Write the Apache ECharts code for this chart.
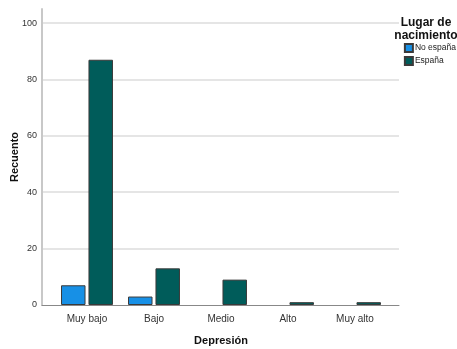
<!DOCTYPE html>
<html><head><meta charset="utf-8">
<script src="https://cdn.jsdelivr.net/npm/echarts@6/dist/echarts.min.js"></script>
<style>html,body{margin:0;padding:0;background:#fff}#c{width:457px;height:349px}</style>
</head><body><div id="c"></div>
<script>
const categories = ['Muy bajo', 'Bajo', 'Medio', 'Alto', 'Muy alto'];
const noEspana = [7, 3, 0, 0, 0];
const espana = [87, 13, 9, 1, 1];
const yTicks = [0, 20, 40, 60, 80, 100];
const seriesNames = ['No españa', 'España'];

const chart = echarts.init(document.getElementById('c'));
const FF = 'Arial, Liberation Sans, sans-serif';
const lab = {fontFamily: FF, fontSize: 9, color: '#333'};
const nz = arr => arr.map(v => v === 0 ? '-' : v);
chart.setOption({
  animation: false,
  title: {text: 'Lugar de\nnacimiento', left: 421, top: 11, textAlign: 'center',
    textStyle: {fontFamily: FF, fontSize: 12, fontWeight: 'bold', color: '#111', lineHeight: 13}},
  legend: {orient: 'vertical', right: 0, top: 38, align: 'left', padding: [5, 1, 5, 2], itemWidth: 8, itemHeight: 8, itemGap: 3,
    icon: 'rect', textStyle: {fontFamily: FF, fontSize: 8.5, color: '#222', padding: [0,0,0,-3]},
    data: seriesNames},
  grid: [
    {left: 42, right: 58, top: 9, bottom: 44, outerBoundsMode: 'none', containLabel: false},
    {left: 53.5, right: 68.5, top: 9, bottom: 44, outerBoundsMode: 'none', containLabel: false}
  ],
  xAxis: [
    {gridIndex: 0, type: 'value', min: 0, max: 1, axisLine: {show: true, onZero: false, lineStyle: {color: '#888', width: 1}},
     axisTick: {show: false}, axisLabel: {show: false}, splitLine: {show: false}},
    {gridIndex: 1, type: 'category', data: categories, axisLine: {show: false}, axisTick: {show: false},
     axisLabel: Object.assign({}, lab, {fontSize: 10, margin: 9}),
     name: 'Depresión', nameLocation: 'middle', nameGap: 30, nameMoveOverlap: false,
     nameTextStyle: {fontFamily: FF, fontSize: 11, fontWeight: 'bold', color: '#111'}}
  ],
  yAxis: [
    {gridIndex: 0, type: 'value', min: 0, max: 105, interval: 20,
     axisLine: {show: true, lineStyle: {color: '#c8c8c8', width: 2}}, axisTick: {show: false},
     axisLabel: Object.assign({}, lab, {showMaxLabel: false, margin: 5, formatter: v => yTicks.includes(v) ? String(v) : ''}),
     splitLine: {show: true, showMaxLine: false, showMinLine: false, lineStyle: {color: '#dcdcdc', width: 1.5}},
     name: 'Recuento', nameLocation: 'middle', nameGap: 22, nameMoveOverlap: false,
     nameTextStyle: {fontFamily: FF, fontSize: 11, fontWeight: 'bold', color: '#111'}},
    {gridIndex: 1, type: 'value', min: 0, max: 105, show: false}
  ],
  series: [
    {name: seriesNames[0], type: 'bar', xAxisIndex: 1, yAxisIndex: 1, data: nz(noEspana),
     barWidth: 24.5, barGap: '12%', itemStyle: {color: '#1790e6', borderColor: '#3a3a3a', borderWidth: 1}},
    {name: seriesNames[1], type: 'bar', xAxisIndex: 1, yAxisIndex: 1, data: nz(espana),
     barWidth: 24.5, barGap: '12%', itemStyle: {color: '#005c5a', borderColor: '#3a3a3a', borderWidth: 1}}
  ]
});
</script></body></html>
